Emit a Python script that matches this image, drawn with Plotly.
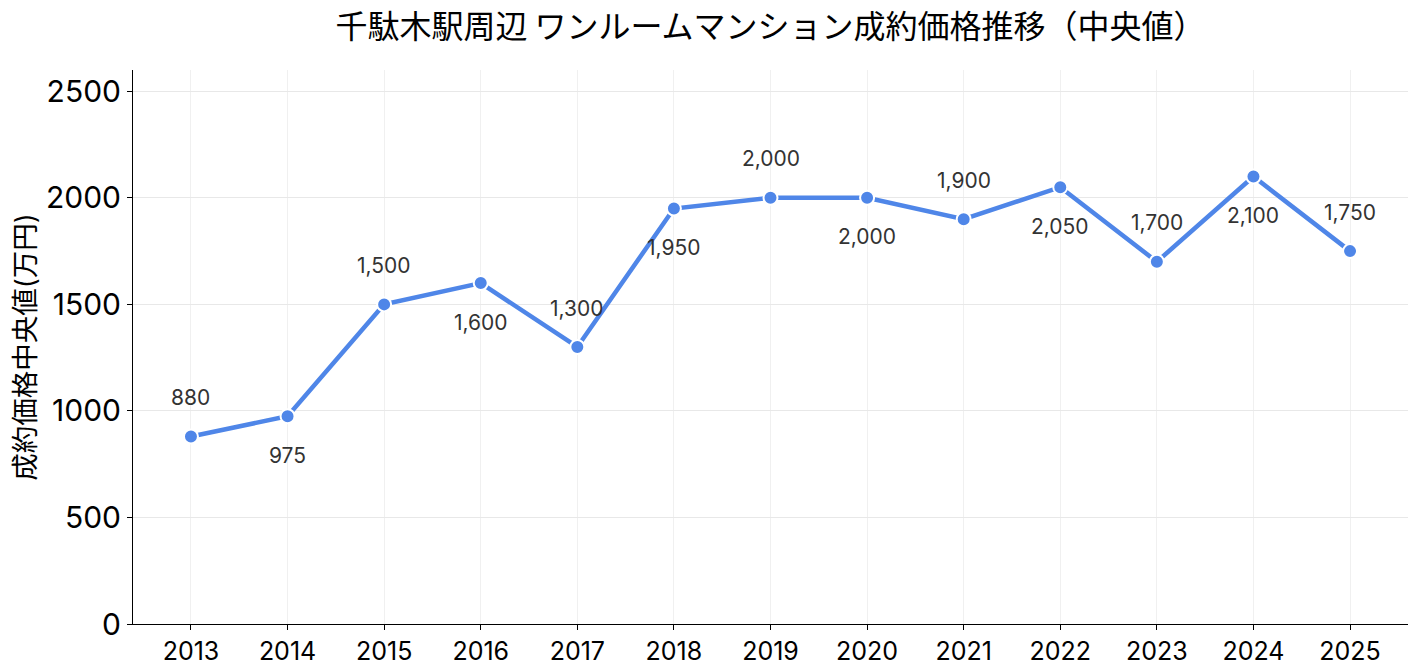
import plotly.graph_objects as go

years = [2013, 2014, 2015, 2016, 2017, 2018, 2019, 2020, 2021, 2022, 2023, 2024, 2025]
prices = [880, 975, 1500, 1600, 1300, 1950, 2000, 2000, 1900, 2050, 1700, 2100, 1750]
y_ticks = [0, 500, 1000, 1500, 2000, 2500]

FONT = 'Inter, Noto Sans CJK JP'
line_color = '#4f86e8'

fig = go.Figure()
fig.add_trace(go.Scatter(
    x=years, y=prices, mode='lines+markers',
    line=dict(color=line_color, width=4.5),
    marker=dict(size=14, color=line_color, line=dict(color='white', width=2)),
    showlegend=False
))

# labels alternate above / below the points
for i, (yr, p) in enumerate(zip(years, prices)):
    shift = 39 if i % 2 == 0 else -39
    fig.add_annotation(x=yr, y=p, text='{:,}'.format(p), showarrow=False,
                       yshift=shift, font=dict(family=FONT, size=21, color='#333333'))

fig.update_layout(
    width=1418, height=671,
    title=dict(text='千駄木駅周辺 ワンルームマンション成約価格推移（中央値）', xref='paper', x=0.5, xanchor='center',
               yref='container', y=0.96, yanchor='middle',
               font=dict(family='Noto Sans CJK JP', size=32, color='black')),
    font=dict(family=FONT, color='black'),
    plot_bgcolor='white', paper_bgcolor='white',
    margin=dict(l=133, r=10, t=70, b=47)
)
fig.update_xaxes(range=[2012.4, 2025.6], tickvals=years, ticktext=[str(y) for y in years],
                 showgrid=True, gridcolor='#f0f0f0', showline=True, linecolor='black', linewidth=1,
                 ticks='outside', ticklen=5, tickcolor='black', zeroline=False, automargin=False,
                 tickfont=dict(family=FONT, size=25, color='black'))
fig.update_yaxes(range=[0, 2600], tickvals=y_ticks, ticktext=[str(v) for v in y_ticks],
                 title=dict(text='成約価格中央値(万円)', font=dict(family=FONT, size=27.5, color='black'), standoff=2),
                 showgrid=True, gridcolor='#e8e8e8', showline=True, linecolor='black', linewidth=1,
                 ticks='outside', ticklen=5, tickcolor='black', zeroline=False, automargin=False,
                 tickfont=dict(family=FONT, size=30, color='black'))

# drop the default page margin so the figure sits at the window's corner
fig.write_html("out.html", config={'displayModeBar': False},
               post_script="document.body.style.margin='0';")
